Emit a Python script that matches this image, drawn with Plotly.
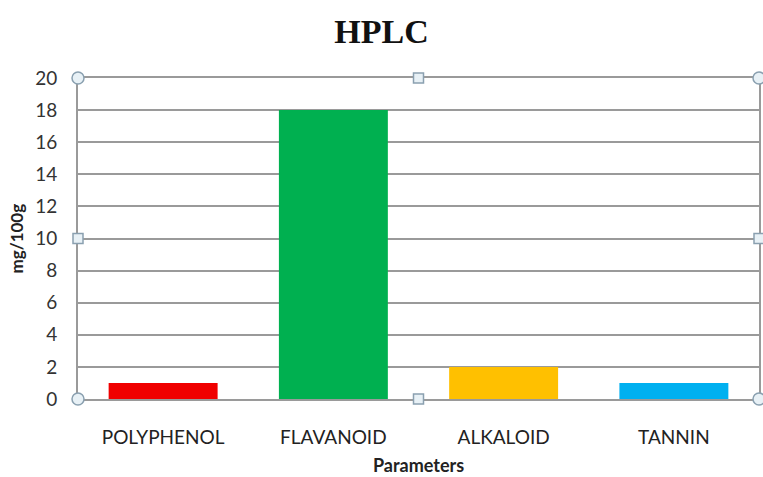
import plotly.graph_objects as go

# HPLC quantification results (mg/100g)
categories = ["POLYPHENOL", "FLAVANOID", "ALKALOID", "TANNIN"]
values = [1.0, 18.0, 2.0, 1.0]
bar_colors = ["#F00000", "#00B050", "#FFC000", "#00B0F0"]
y_ticks = list(range(0, 21, 2))

fig = go.Figure(
    go.Bar(
        x=categories,
        y=values,
        marker=dict(color=bar_colors, line=dict(width=0)),
        width=0.64,
    )
)

grid_col = "#9a9a9a"
fig.update_layout(
    width=763,
    height=477,
    margin=dict(l=78, r=4, t=78, b=78),
    paper_bgcolor="white",
    plot_bgcolor="white",
    showlegend=False,
    title=dict(
        text="<b>HPLC</b>",
        x=0.5,
        xanchor="center",
        y=0.935,
        yanchor="middle",
        font=dict(family="Liberation Serif", size=34, color="#111111"),
    ),
    xaxis=dict(
        automargin=False,
        showgrid=False,
        showline=True,
        linecolor=grid_col,
        linewidth=2,
        mirror=True,
        ticks="",
        ticklabelstandoff=20,
        tickfont=dict(family="Lato", size=19, color="#222222"),
    ),
    yaxis=dict(
        automargin=False,
        range=[0, 20],
        tickvals=y_ticks,
        showgrid=True,
        gridcolor=grid_col,
        gridwidth=2,
        showline=True,
        linecolor=grid_col,
        linewidth=2,
        mirror=True,
        zeroline=False,
        ticks="",
        ticklabelstandoff=15,
        tickfont=dict(family="Lato", size=19, color="#333333"),
    ),
)

# Axis titles
fig.add_annotation(
    text="<b>Parameters</b>", xref="paper", yref="paper",
    x=0.5, y=0, yshift=-66, xanchor="center", yanchor="middle",
    showarrow=False, font=dict(family="Lato", size=18, color="#222222"),
)
fig.add_annotation(
    text="<b>mg/100g</b>", xref="paper", yref="paper",
    x=0, y=0.5, xshift=-62, xanchor="center", yanchor="middle",
    textangle=-90, showarrow=False,
    font=dict(family="Lato", size=17, color="#222222"),
)

# Selection handles around the chart frame
handle_line = dict(color="#8aa0b0", width=1.5)
handle_fill = "#e8f1f6"
corners = [(0, 0), (1, 0), (0, 1), (1, 1)]
mids = [(0.5, 0), (0.5, 1), (0, 0.5), (1, 0.5)]
for px, py in corners:
    fig.add_shape(
        type="circle", xref="paper", yref="paper",
        xsizemode="pixel", ysizemode="pixel",
        xanchor=px, yanchor=py,
        x0=-6, x1=6, y0=-6, y1=6,
        line=handle_line, fillcolor=handle_fill, layer="above",
    )
for px, py in mids:
    fig.add_shape(
        type="rect", xref="paper", yref="paper",
        xsizemode="pixel", ysizemode="pixel",
        xanchor=px, yanchor=py,
        x0=-5, x1=5, y0=-5, y1=5,
        line=handle_line, fillcolor=handle_fill, layer="above",
    )

fig.write_html("out.html")
